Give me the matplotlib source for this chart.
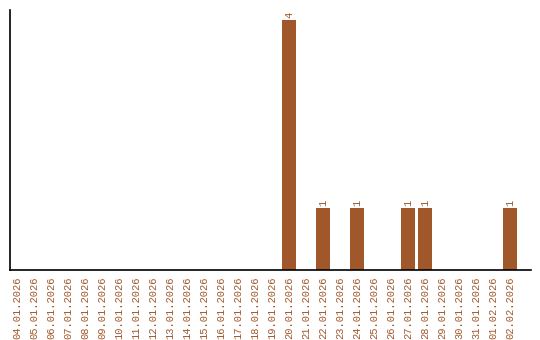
import numpy as np
import matplotlib
matplotlib.use("Agg")
import matplotlib.pyplot as plt

dates = ["04.01.2026", "05.01.2026", "06.01.2026", "07.01.2026", "08.01.2026",
         "09.01.2026", "10.01.2026", "11.01.2026", "12.01.2026", "13.01.2026",
         "14.01.2026", "15.01.2026", "16.01.2026", "17.01.2026", "18.01.2026",
         "19.01.2026", "20.01.2026", "21.01.2026", "22.01.2026", "23.01.2026",
         "24.01.2026", "25.01.2026", "26.01.2026", "27.01.2026", "28.01.2026",
         "29.01.2026", "30.01.2026", "31.01.2026", "01.02.2026", "02.02.2026"]
counts = [0, 0, 0, 0, 0, 0, 0, 0, 0, 0,
          0, 0, 0, 0, 0, 0, 4, 0, 1, 0,
          1, 0, 0, 1, 1, 0, 0, 0, 0, 1]

col = "#A0572A"
font = "Liberation Mono"

fig = plt.figure(figsize=(5.4, 3.4), dpi=100)
ax = fig.add_axes([10/540, 70/340, 521/540, 260/340])

x = np.arange(len(dates))
ax.bar(x, counts, width=0.82, color=col)
for i, v in enumerate(counts):
    if v > 0:
        ax.text(i, v + 0.03, str(v), rotation=90, ha="center", va="bottom",
                color=col, fontsize=7.5, family=font)

ax.set_xlim(-0.41, 30.24)
ax.set_ylim(0, 4.16)
ax.set_xticks(x)
ax.set_xticklabels(dates, rotation=90, color=col, fontsize=7.5, family=font)
ax.tick_params(axis="x", length=0, pad=5)
ax.set_yticks([])
for s in ["top", "right"]:
    ax.spines[s].set_visible(False)
ax.spines["left"].set_linewidth(1.2)
ax.spines["bottom"].set_linewidth(1.2)

fig.savefig("out.png", dpi=100)
